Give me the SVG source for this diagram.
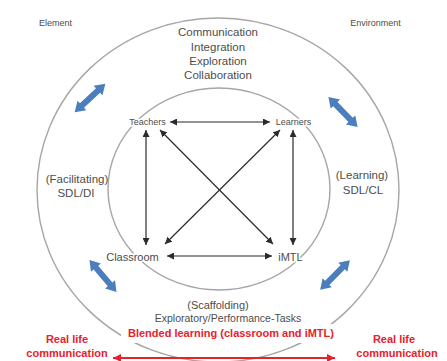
<svg xmlns="http://www.w3.org/2000/svg" width="447" height="361" viewBox="0 0 447 361">
  <style>
    .ring { fill: none; stroke: #a6a6a6; stroke-width: 1.4; }
    .lbl { font-family: "Liberation Sans", Arial, sans-serif; fill: #4d4d4d; text-anchor: middle; }
    .halo { stroke: #fff; stroke-width: 3; paint-order: stroke; }
    .red { font-family: "Liberation Sans", Arial, sans-serif; fill: #e8212b; font-weight: bold; text-anchor: middle; font-size: 11px; }
    .link { stroke: #2b2b2b; stroke-width: 1.2; fill: none; marker-start: url(#tip); marker-end: url(#tip); }
    .swap { fill: #4a7ebd; }
  </style>
  <defs>
    <marker id="tip" viewBox="0 0 10 10" refX="10" refY="5" markerWidth="7" markerHeight="7" markerUnits="userSpaceOnUse" orient="auto-start-reverse">
      <path d="M0,0 L10,5 L0,10 z" fill="#2b2b2b"/>
    </marker>
    <marker id="redtip" viewBox="0 0 10 10" refX="10" refY="5" markerWidth="8" markerHeight="8" markerUnits="userSpaceOnUse" orient="auto-start-reverse">
      <path d="M0,0 L10,5 L0,10 z" fill="#e8212b"/>
    </marker>
    <!-- thick two-way block arrow, centred on the origin -->
    <path id="dbl" d="M-21,0 L-11,-6.5 L-11,-3 L11,-3 L11,-6.5 L21,0 L11,6.5 L11,3 L-11,3 L-11,6.5 z"/>
  </defs>

  <rect width="447" height="361" fill="#fff"/>

  <!-- rings -->
  <g id="rings">
    <ellipse class="ring" cx="218" cy="190" rx="181" ry="172"/>
    <ellipse class="ring" cx="219" cy="189" rx="111" ry="101"/>
  </g>

  <!-- corner captions -->
  <g id="element"><text class="lbl" x="55.5" y="26" font-size="9">Element</text></g>
  <g id="environment"><text class="lbl" x="375.5" y="26" font-size="9">Environment</text></g>

  <!-- top process words -->
  <g id="process">
    <text class="lbl" x="218" y="36" font-size="11.5">Communication</text>
    <text class="lbl" x="218" y="51" font-size="11.5">Integration</text>
    <text class="lbl" x="218" y="65" font-size="11.5">Exploration</text>
    <text class="lbl" x="218" y="79" font-size="11.5">Collaboration</text>
  </g>

  <!-- side captions -->
  <g id="facilitating">
    <text class="lbl" x="77" y="183" font-size="11.5">(Facilitating)</text>
    <text class="lbl" x="76" y="197" font-size="11.5">SDL/DI</text>
  </g>
  <g id="learning">
    <text class="lbl" x="362" y="179" font-size="11.5">(Learning)</text>
    <text class="lbl" x="363" y="194" font-size="11.5">SDL/CL</text>
  </g>
  <g id="scaffolding">
    <text class="lbl" x="218" y="309" font-size="11">(Scaffolding)</text>
    <text class="lbl" x="228" y="322" font-size="10.5">Exploratory/Performance-Tasks</text>
  </g>

  <!-- nodes -->
  <g id="teachers"><text class="lbl halo" x="147.5" y="125" font-size="9">Teachers</text></g>
  <g id="learners"><text class="lbl halo" x="293.5" y="125" font-size="9">Learners</text></g>
  <g id="classroom"><text class="lbl halo" x="132.5" y="261" font-size="11">Classroom</text></g>
  <g id="imtl"><text class="lbl halo" x="290.5" y="261" font-size="11">iMTL</text></g>

  <!-- connectors -->
  <g id="connectors">
    <line class="link" x1="170" y1="122" x2="270" y2="122"/>
    <line class="link" x1="167" y1="256" x2="272" y2="256"/>
    <line class="link" x1="146" y1="130" x2="146" y2="245"/>
    <line class="link" x1="293" y1="130" x2="293" y2="245"/>
    <line class="link" x1="160" y1="130" x2="273" y2="244"/>
    <line class="link" x1="280" y1="130" x2="165" y2="244"/>
  </g>

  <!-- blue two-way arrows between the rings -->
  <g id="exchange">
    <use href="#dbl" class="swap" transform="translate(90,98) rotate(-43)"/>
    <use href="#dbl" class="swap" transform="translate(343,112) rotate(46)"/>
    <use href="#dbl" class="swap" transform="translate(103,276) rotate(50)"/>
    <use href="#dbl" class="swap" transform="translate(335,275) rotate(-45)"/>
  </g>

  <!-- blended learning band -->
  <g id="blended">
    <rect x="121" y="324" width="220" height="19" fill="#fff"/>
    <text class="red" x="231" y="337">Blended  learning (classroom and iMTL)</text>
    <line x1="113" y1="358" x2="335" y2="358" stroke="#e8212b" stroke-width="2" marker-start="url(#redtip)" marker-end="url(#redtip)"/>
  </g>
  <g id="reallife-left">
    <text class="red" x="67" y="343">Real life</text>
    <text class="red" x="67" y="357">communication</text>
  </g>
  <g id="reallife-right">
    <text class="red" x="394" y="343">Real life</text>
    <text class="red" x="397" y="357">communication</text>
  </g>
</svg>
